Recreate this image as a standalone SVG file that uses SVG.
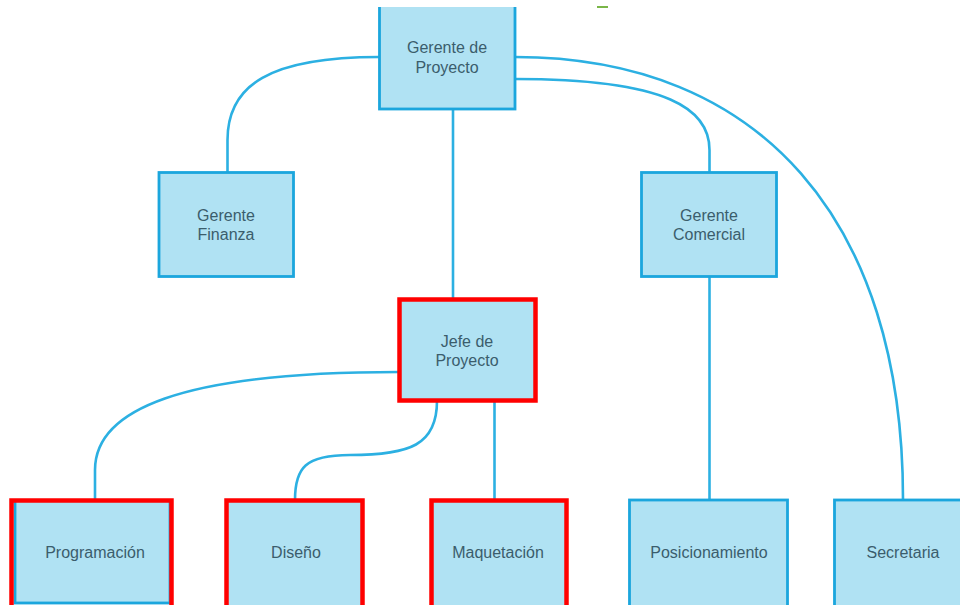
<svg xmlns="http://www.w3.org/2000/svg" width="960" height="605" viewBox="0 0 960 605">
<style>
.n{fill:#b0e2f3;stroke:#1ba6dd;stroke-width:2.8}
.r{fill:none;stroke:#ff0000;stroke-width:4.5}
.c{fill:none;stroke:#2cb0e2;stroke-width:2.6}
text{font-family:"Liberation Sans",Arial,sans-serif;font-size:16px;fill:#3b5d6c;text-anchor:middle}
</style>
<defs>
<clipPath id="topclip"><rect x="0" y="7" width="960" height="600"/></clipPath>
</defs>
<rect width="960" height="605" fill="#ffffff"/>
<line x1="597" y1="7" x2="608" y2="7" stroke="#7ab648" stroke-width="2"/>
<g id="connectors">
<path class="c" d="M379,57 C270,57 227.5,85 227.5,140 L227.5,172"/>
<path class="c" d="M453,109 L453,299"/>
<path class="c" d="M515,79 C670,79 709.5,110 709.5,150 L709.5,172"/>
<path class="c" d="M515,57 C760,57 903,220 903,499"/>
<path class="c" d="M709.5,277 L709.5,500"/>
<path class="c" d="M399,372 C180,372 95,410 95,470 L95,500"/>
<path class="c" d="M437,401 C437,445 410,455 350,455 C305,455 295,468 295,500"/>
<path class="c" d="M494.5,401 L494.5,500"/>
</g>
<g id="gerente-proyecto">
<rect class="n" x="379.5" y="-6" width="135.5" height="115" clip-path="url(#topclip)"/>
<text x="447" y="53">Gerente de</text>
<text x="447" y="73">Proyecto</text>
</g>
<g id="gerente-finanza">
<rect class="n" x="159" y="172.5" width="134.5" height="104"/>
<text x="226" y="221">Gerente</text>
<text x="226" y="240">Finanza</text>
</g>
<g id="gerente-comercial">
<rect class="n" x="641.5" y="172.5" width="135" height="104"/>
<text x="709" y="221">Gerente</text>
<text x="709" y="240">Comercial</text>
</g>
<g id="jefe-proyecto">
<rect class="n" x="399.5" y="299.5" width="136" height="101"/>
<rect class="r" x="399.5" y="299.5" width="136" height="101"/>
<text x="467" y="347">Jefe de</text>
<text x="467" y="366">Proyecto</text>
</g>
<g id="programacion">
<rect class="n" x="15" y="500.5" width="155" height="102.5"/>
<rect class="r" x="11.5" y="500.5" width="160" height="110"/>
<text x="95" y="558">Programación</text>
</g>
<g id="diseno">
<rect class="n" x="226.5" y="500.5" width="136" height="110"/>
<rect class="r" x="226.5" y="500.5" width="136" height="110"/>
<text x="296" y="558">Diseño</text>
</g>
<g id="maquetacion">
<rect class="n" x="431.5" y="500.5" width="135" height="110"/>
<rect class="r" x="431.5" y="500.5" width="135" height="110"/>
<text x="498" y="558">Maquetación</text>
</g>
<g id="posicionamiento">
<rect class="n" x="629.5" y="500" width="158" height="110"/>
<text x="709" y="558">Posicionamiento</text>
</g>
<g id="secretaria">
<rect class="n" x="834.5" y="500" width="140" height="110"/>
<text x="903" y="558">Secretaria</text>
</g>
</svg>
